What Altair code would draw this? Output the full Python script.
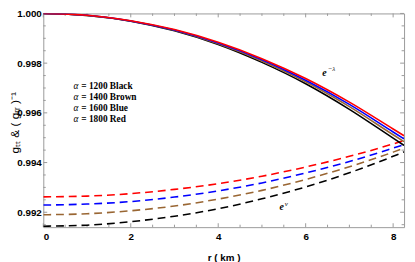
import altair as alt
import pandas as pd

# radial coordinate (km)
r = [0, 1, 2, 3, 4, 5, 6, 7, 8, 8.25]

# e^{-lambda}  (solid curves)
lam_black = [1.00000, 0.99992, 0.99969, 0.99930, 0.99875, 0.99803, 0.99717, 0.99614, 0.99498, 0.99469]
lam_brown = [1.00000, 0.99992, 0.99970, 0.99932, 0.99878, 0.99809, 0.99725, 0.99625, 0.99512, 0.99484]
lam_blue  = [1.00000, 0.99993, 0.99970, 0.99933, 0.99881, 0.99814, 0.99731, 0.99634, 0.99523, 0.99495]
lam_red   = [1.00000, 0.99993, 0.99971, 0.99935, 0.99884, 0.99818, 0.99738, 0.99643, 0.99535, 0.99508]

# e^{nu}  (dashed curves)
nu_black = [0.99144, 0.99148, 0.99162, 0.99184, 0.99214, 0.99254, 0.99302, 0.99359, 0.99425, 0.99443]
nu_brown = [0.99190, 0.99194, 0.99206, 0.99225, 0.99253, 0.99288, 0.99332, 0.99383, 0.99442, 0.99458]
nu_blue  = [0.99229, 0.99233, 0.99243, 0.99261, 0.99286, 0.99318, 0.99358, 0.99404, 0.99458, 0.99472]
nu_red   = [0.99262, 0.99265, 0.99275, 0.99292, 0.99315, 0.99345, 0.99382, 0.99425, 0.99475, 0.99489]

series_names = ["Black", "Brown", "Blue", "Red"]
series_colors = ["#000000", "#996633", "#0000ff", "#ff0000"]
lam_series = [lam_black, lam_brown, lam_blue, lam_red]
nu_series = [nu_black, nu_brown, nu_blue, nu_red]

# legend text
legend_alpha = ["1200", "1400", "1600", "1800"]
legend_r = [0.69, 0.69, 0.69, 0.69]
legend_v = [0.99707, 0.99665, 0.99619, 0.99577]

# curve labels
lab_lam_r, lab_lam_v = 6.38, 0.99760
lab_nu_r, lab_nu_v = 5.40, 0.99219

# frame ticks
x_major = [0, 2, 4, 6, 8]
x_minor = [0.5, 1, 1.5, 2.5, 3, 3.5, 4.5, 5, 5.5, 6.5, 7, 7.5]
y_major = [0.992, 0.994, 0.996, 0.998, 1.000]
y_minor = [0.9915, 0.9925, 0.993, 0.9935, 0.9945, 0.995, 0.9955, 0.9965,
           0.997, 0.9975, 0.9985, 0.999, 0.9995]

W, H = 368, 218
GRAY = "#9a9a9a"
SANS = "Liberation Sans"
SERIF = "Liberation Serif"

xscale = alt.Scale(domain=[0, 8.25], nice=False, zero=False)
yscale = alt.Scale(domain=[0.9914, 1.0], nice=False, zero=False)

xenc = alt.X("r:Q", scale=xscale, axis=alt.Axis(
    title="r ( km )", values=x_major, format="d", ticks=False, domain=False, grid=False,
    labelFont=SANS, labelFontWeight="bold", labelFontSize=10, labelColor="#000",
    labelPadding=5, titleFont=SANS, titleFontWeight="bold", titleFontSize=10,
    titleColor="#000", titleY=26, titleBaseline="top"))
yenc = alt.Y("v:Q", scale=yscale, axis=alt.Axis(
    title="gₜₜ  &  ( gᵣᵣ )⁻¹", values=y_major, format=".3f", ticks=False, domain=False,
    grid=False, labelFont=SANS, labelFontWeight="bold", labelFontSize=10,
    labelColor="#000", labelPadding=2, titleFont=SANS, titleFontWeight="normal",
    titleFontSize=12, titleColor="#000", titleX=-29, titleY=111,
    titleAngle=-90, titleAlign="center", titleBaseline="middle"))

layers = []

# inward frame ticks
def xticks(vals, length):
    d = pd.DataFrame({"r": vals})
    bot = alt.Chart(d).mark_rule(color=GRAY, strokeWidth=1).encode(
        x=xenc, y=alt.value(H), y2=alt.value(H - length))
    top = alt.Chart(d).mark_rule(color=GRAY, strokeWidth=1).encode(
        x=xenc, y=alt.value(0), y2=alt.value(length))
    return [bot, top]

def yticks(vals, length):
    d = pd.DataFrame({"v": vals})
    lft = alt.Chart(d).mark_rule(color=GRAY, strokeWidth=1).encode(
        y=yenc, x=alt.value(0), x2=alt.value(length))
    rgt = alt.Chart(d).mark_rule(color=GRAY, strokeWidth=1).encode(
        y=yenc, x=alt.value(W), x2=alt.value(W - length))
    return [lft, rgt]

layers += xticks(x_major, 4) + xticks(x_minor, 2.5)
layers += yticks(y_major, 4) + yticks(y_minor, 2.5)

for name, col, vals in zip(series_names, series_colors, nu_series):
    d = pd.DataFrame({"r": r, "v": vals})
    layers.append(alt.Chart(d).mark_line(
        color=col, strokeWidth=1.6, strokeDash=[8, 5], interpolate="monotone",
        clip=True).encode(x=xenc, y=yenc))

for name, col, vals in zip(series_names, series_colors, lam_series):
    d = pd.DataFrame({"r": r, "v": vals})
    layers.append(alt.Chart(d).mark_line(
        color=col, strokeWidth=1.6, interpolate="monotone", clip=True).encode(
        x=xenc, y=yenc))

# legend text
leg = pd.DataFrame({"r": legend_r, "v": legend_v,
                    "t": ["= " + a + " " + n for a, n in zip(legend_alpha, series_names)],
                    "a": ["α"] * 4})
layers.append(alt.Chart(leg).mark_text(
    align="left", baseline="middle", font=SERIF, fontStyle="italic",
    fontSize=9.5, color="#000").encode(x=xenc, y=yenc, text="a:N"))
layers.append(alt.Chart(leg).mark_text(
    align="left", baseline="middle", font=SERIF, fontWeight="bold",
    fontSize=9.5, color="#000", dx=8).encode(x=xenc, y=yenc, text="t:N"))

# curve labels
lab = pd.DataFrame({"r": [lab_lam_r, lab_nu_r], "v": [lab_lam_v, lab_nu_v],
                    "e": ["e", "e"], "s": ["−λ", "ν"]})
layers.append(alt.Chart(lab).mark_text(
    align="left", baseline="middle", font=SERIF, fontStyle="italic",
    fontWeight="bold", fontSize=10, color="#000").encode(x=xenc, y=yenc, text="e:N"))
layers.append(alt.Chart(lab).mark_text(
    align="left", baseline="middle", font=SERIF, fontStyle="italic",
    fontSize=7, color="#000", dx=5.5, dy=-4).encode(x=xenc, y=yenc, text="s:N"))

chart = alt.layer(*layers).properties(
    width=W, height=H,
    autosize=alt.AutoSizeParams(type="none"),
    padding={"left": 36, "top": 3, "right": 3, "bottom": 34},
).configure_view(stroke=GRAY, strokeWidth=1)

chart.save("out.html", embed_options={"renderer": "svg", "actions": False})
